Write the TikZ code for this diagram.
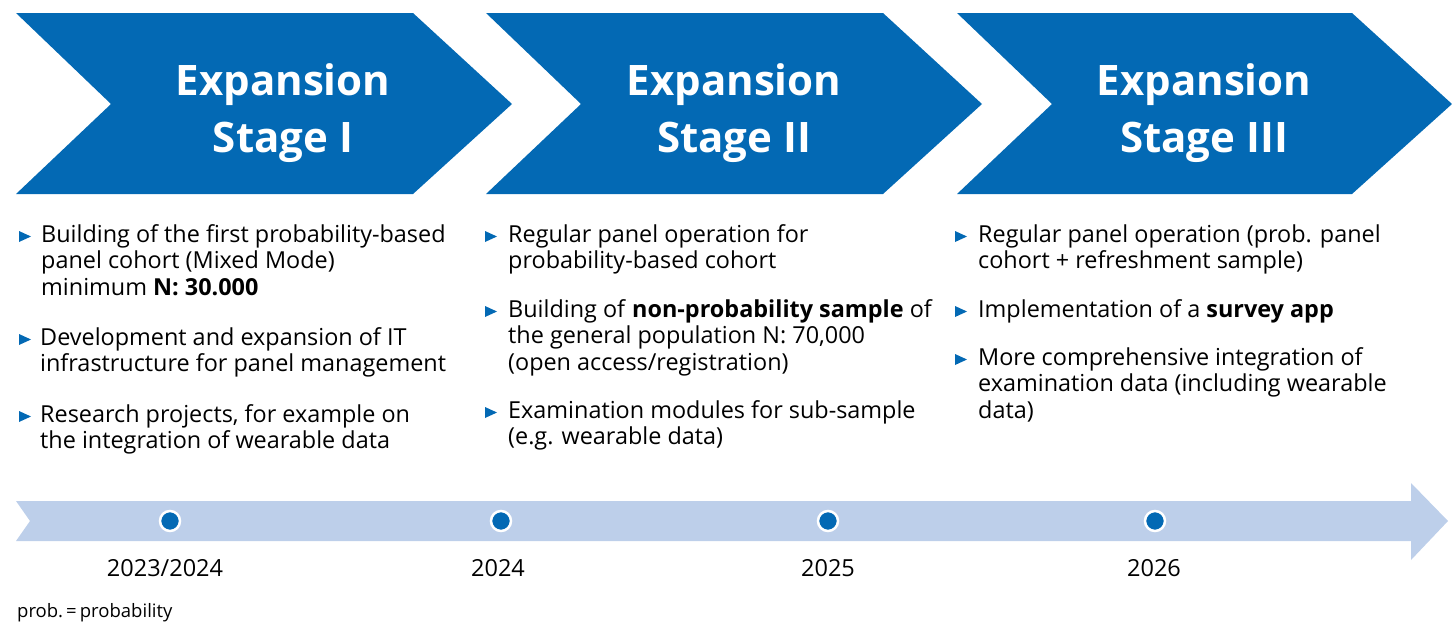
\documentclass[tikz,border=0pt]{standalone}
\usepackage{fontspec}
\setmainfont{Open Sans}
\definecolor{diwblue}{HTML}{0369B4}
\definecolor{bandblue}{HTML}{BDCFEA}
\begin{document}
\begin{tikzpicture}[x=1pt,y=-1pt,
  chev/.style={fill=diwblue},
  stagetitle/.style={anchor=north,inner sep=0,align=center,text=white,
    font=\fontsize{42}{57}\selectfont\bfseries},
  item/.style={anchor=north west,inner sep=0,align=left,text=black,
    font=\fontsize{23.4}{26.5}\selectfont},
  year/.style={anchor=base,inner sep=0,text=black,font=\fontsize{23.5}{28}\selectfont},
  dot/.style={circle,fill=diwblue,draw=white,line width=2.5pt,minimum size=20pt,inner sep=0},
  bul/.pic={\fill[diwblue] (0,-11) -- (12,-5.5) -- (0,0) -- cycle;}
]
\useasboundingbox (0,0) rectangle (1452,622);
% chevrons
\fill[chev] (16,13) -- (413,13) -- (512,104) -- (413,194) -- (16,194) -- (111,104) -- cycle;
\fill[chev] (486,13) -- (883,13) -- (982,104) -- (883,194) -- (486,194) -- (581,104) -- cycle;
\fill[chev] (957,13) -- (1352,13) -- (1452,104) -- (1352,194) -- (957,194) -- (1052,104) -- cycle;
\node[stagetitle] (t1) at (283,63) {\rule{0pt}{32pt}Expansion\\Stage I};
\node[stagetitle] (t2) at (734,63) {\rule{0pt}{32pt}Expansion\\Stage II};
\node[stagetitle] (t3) at (1204,63) {\rule{0pt}{32pt}Expansion\\Stage III};
% column 1
\pic at (19,242) {bul};
\node[item] (a1) at (41,220) {\rule{0pt}{22pt}Building of the first probability-based\\panel cohort (Mixed Mode)\\minimum \textbf{N: 30.000}};
\pic at (19,345) {bul};
\node[item] (a2) at (40,323) {\rule{0pt}{22pt}Development and expansion of IT\\infrastructure for panel management};
\pic at (19,422) {bul};
\node[item] (a3) at (40,400) {\rule{0pt}{22pt}Research projects, for example on\\the integration of wearable data};
% column 2
\pic at (485,242) {bul};
\node[item] (b1) at (508,220) {\rule{0pt}{22pt}Regular panel operation for\\probability-based cohort};
\pic at (485,317) {bul};
\node[item] (b2) at (508,295) {\rule{0pt}{22pt}Building of \textbf{non-probability sample} of\\the general population N: 70,000\\(open access/registration)};
\pic at (485,418) {bul};
\node[item] (b3) at (508,396) {\rule{0pt}{22pt}Examination modules for sub-sample\\(e.g. wearable data)};
% column 3
\pic at (955,242) {bul};
\node[item] (c1) at (978,220) {\rule{0pt}{22pt}Regular panel operation (prob. panel\\cohort + refreshment sample)};
\pic at (955,317) {bul};
\node[item] (c2) at (978,295) {\rule{0pt}{22pt}Implementation of a \textbf{survey app}};
\pic at (955,365) {bul};
\node[item] (c3) at (978,343) {\rule{0pt}{22pt}More comprehensive integration of\\examination data (including wearable\\data)};
% timeline
\fill[bandblue] (16,501) -- (1411,501) -- (1411,483) -- (1448,521) -- (1411,560) -- (1411,541) -- (16,541) -- (30,521) -- cycle;
\node[dot] (d1) at (170,521) {};
\node[dot] (d2) at (501,521) {};
\node[dot] (d3) at (828,521) {};
\node[dot] (d4) at (1155,521) {};
\node[year] (y1) at (165,576) {2023/2024};
\node[year] (y2) at (498,576) {2024};
\node[year] (y3) at (828,576) {2025};
\node[year] (y4) at (1154,576) {2026};
\node[anchor=base west,inner sep=0,font=\fontsize{18.5}{22}\selectfont] (fn) at (17,617) {prob.\,=\,probability};
\end{tikzpicture}
\end{document}
